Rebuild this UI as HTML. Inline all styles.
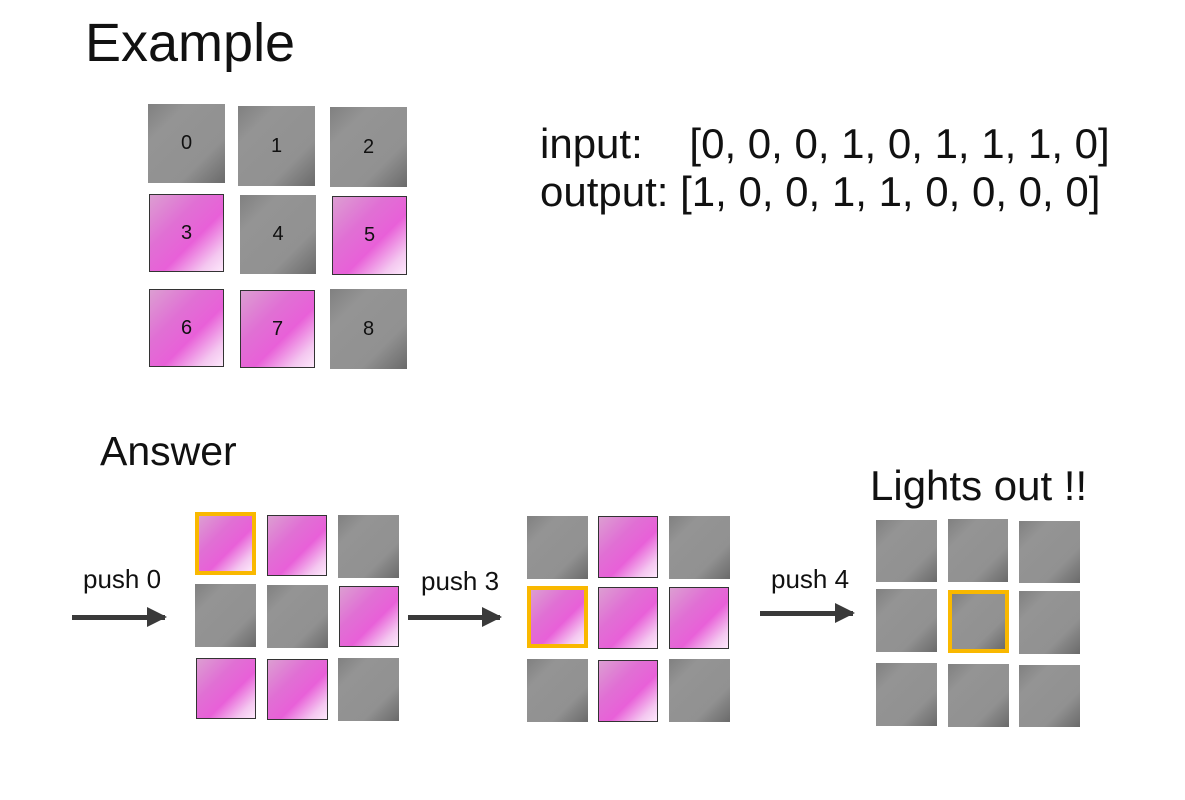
<!DOCTYPE html>
<html><head><meta charset="utf-8"><style>
body{margin:0;width:1185px;height:800px;background:#fff;position:relative;overflow:hidden;font-family:"Liberation Sans",sans-serif;}
.t{position:absolute;box-sizing:border-box;display:flex;align-items:center;justify-content:center;font-size:20px;color:#111;}
.g{background:linear-gradient(135deg,#808080 0%,#949494 25%,#919191 70%,#6a6a6a 100%);}
.p{background:linear-gradient(135deg,#dc9ed2 0%,#e070d4 35%,#e860d8 60%,#f4c8f0 85%,#fde8fb 100%);border:1.5px solid #333;}
.y{border:4px solid #f9b800;}
.txt{position:absolute;white-space:nowrap;color:#111;}
.arr{position:absolute;height:5px;background:#3a3a3a;}
.arr:after{content:"";position:absolute;right:-2px;top:-8px;border-left:20px solid #3a3a3a;border-top:10.5px solid transparent;border-bottom:10.5px solid transparent;}
</style></head><body>
<div class="txt" style="left:85px;top:12px;font-size:54px;">Example</div>
<div class="txt" style="left:540px;top:120px;font-size:42px;line-height:48px;">input:&nbsp;&nbsp;&nbsp; [0, 0, 0, 1, 0, 1, 1, 1, 0]<br>output: [1, 0, 0, 1, 1, 0, 0, 0, 0]</div>

<div class="t g" style="left:148px;top:104px;width:77px;height:79px;">0</div>
<div class="t g" style="left:238px;top:106px;width:77px;height:80px;">1</div>
<div class="t g" style="left:330px;top:107px;width:77px;height:80px;">2</div>
<div class="t p" style="left:149px;top:194px;width:75px;height:78px;">3</div>
<div class="t g" style="left:240px;top:195px;width:76px;height:79px;">4</div>
<div class="t p" style="left:332px;top:196px;width:75px;height:79px;">5</div>
<div class="t p" style="left:149px;top:289px;width:75px;height:78px;">6</div>
<div class="t p" style="left:240px;top:290px;width:75px;height:78px;">7</div>
<div class="t g" style="left:330px;top:289px;width:77px;height:80px;">8</div>

<div class="txt" style="left:100px;top:428px;font-size:41px;">Answer</div>
<div class="txt" style="left:870px;top:462px;font-size:42px;">Lights out !!</div>

<div class="txt" style="left:83px;top:564px;font-size:26px;">push 0</div>
<div class="txt" style="left:421px;top:566px;font-size:26px;">push 3</div>
<div class="txt" style="left:771px;top:564px;font-size:26px;">push 4</div>
<div class="arr" style="left:72px;top:615px;width:93px;"></div>
<div class="arr" style="left:408px;top:615px;width:92px;"></div>
<div class="arr" style="left:760px;top:611px;width:93px;"></div>

<!-- grid 1 -->
<div class="t p y" style="left:195px;top:512px;width:61px;height:63px;"></div>
<div class="t p" style="left:267px;top:515px;width:60px;height:61px;"></div>
<div class="t g" style="left:338px;top:515px;width:61px;height:63px;"></div>
<div class="t g" style="left:195px;top:584px;width:61px;height:63px;"></div>
<div class="t g" style="left:267px;top:585px;width:61px;height:63px;"></div>
<div class="t p" style="left:339px;top:586px;width:60px;height:61px;"></div>
<div class="t p" style="left:196px;top:658px;width:60px;height:61px;"></div>
<div class="t p" style="left:267px;top:659px;width:61px;height:61px;"></div>
<div class="t g" style="left:338px;top:658px;width:61px;height:63px;"></div>

<!-- grid 2 -->
<div class="t g" style="left:527px;top:516px;width:61px;height:63px;"></div>
<div class="t p" style="left:598px;top:516px;width:60px;height:62px;"></div>
<div class="t g" style="left:669px;top:516px;width:61px;height:63px;"></div>
<div class="t p y" style="left:527px;top:586px;width:61px;height:62px;"></div>
<div class="t p" style="left:598px;top:587px;width:60px;height:62px;"></div>
<div class="t p" style="left:669px;top:587px;width:60px;height:62px;"></div>
<div class="t g" style="left:527px;top:659px;width:61px;height:63px;"></div>
<div class="t p" style="left:598px;top:660px;width:60px;height:62px;"></div>
<div class="t g" style="left:669px;top:659px;width:61px;height:63px;"></div>

<!-- grid 3 -->
<div class="t g" style="left:876px;top:520px;width:61px;height:62px;"></div>
<div class="t g" style="left:948px;top:519px;width:60px;height:63px;"></div>
<div class="t g" style="left:1019px;top:521px;width:61px;height:62px;"></div>
<div class="t g" style="left:876px;top:589px;width:61px;height:63px;"></div>
<div class="t g y" style="left:948px;top:590px;width:61px;height:63px;"></div>
<div class="t g" style="left:1019px;top:591px;width:61px;height:63px;"></div>
<div class="t g" style="left:876px;top:663px;width:61px;height:63px;"></div>
<div class="t g" style="left:948px;top:664px;width:61px;height:63px;"></div>
<div class="t g" style="left:1019px;top:665px;width:61px;height:62px;"></div>
</body></html>
